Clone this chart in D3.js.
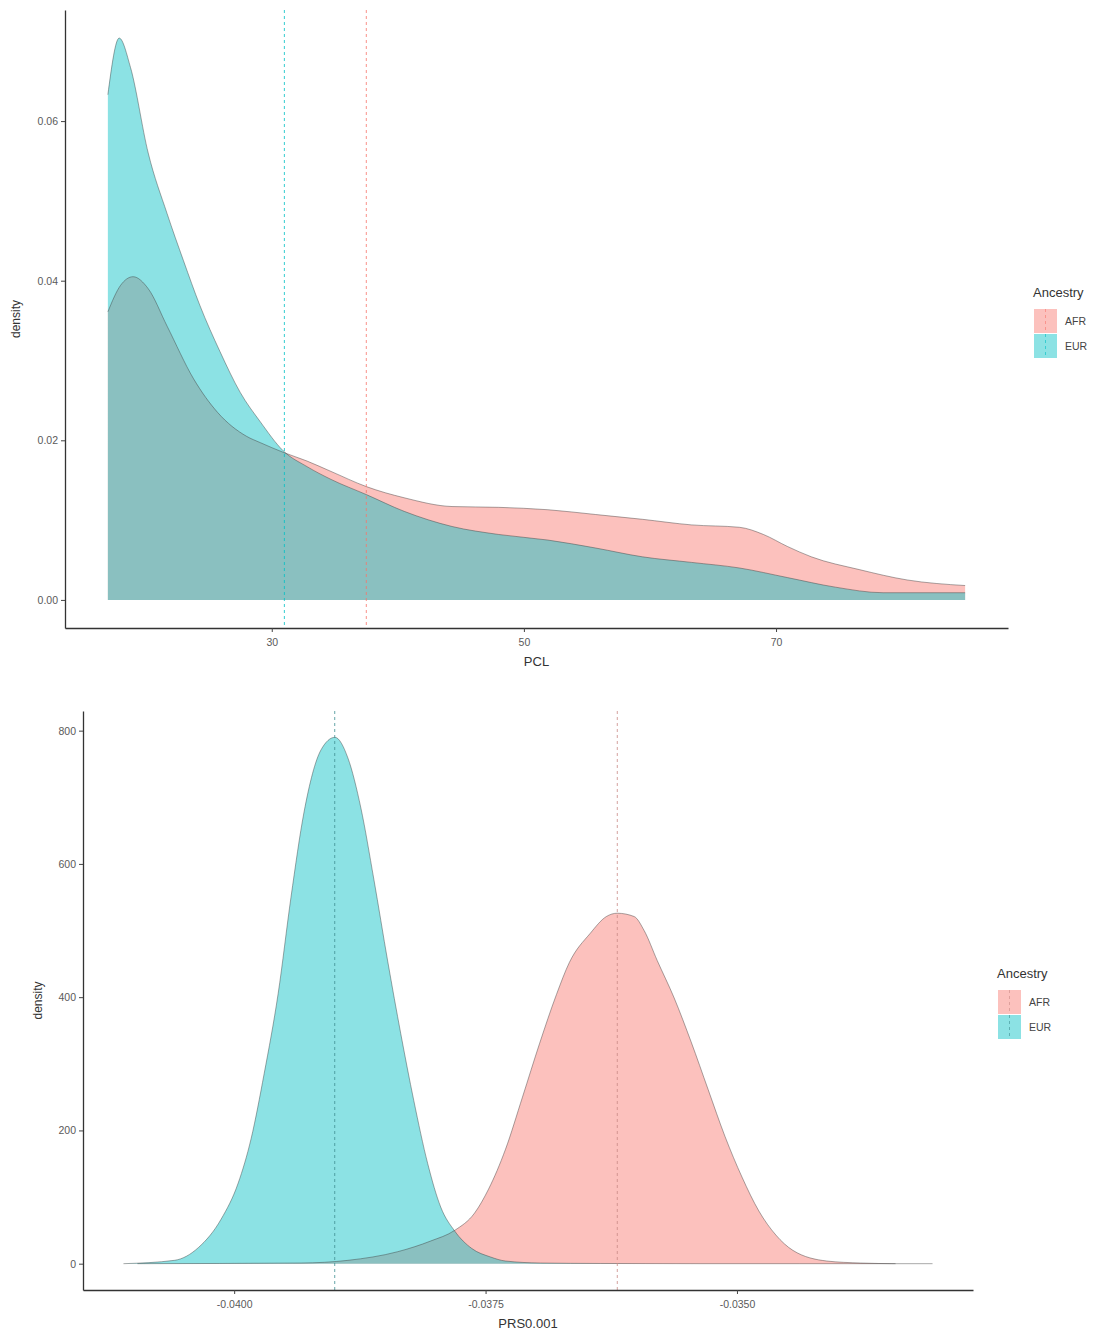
<!DOCTYPE html>
<html>
<head>
<meta charset="utf-8">
<script src="https://cdn.jsdelivr.net/npm/d3@7"></script>
<style>
  html, body { margin: 0; padding: 0; background: #fff; }
  svg { display: block; font-family: "Liberation Sans", Arial, sans-serif; }
</style>
</head>
<body>
<svg id="chart" width="1109" height="1332"></svg>
<script>
// ---------- DATA ----------
const groups = ["AFR", "EUR"];
const groupColors = ["#F8766D", "#00BFC4"];

// Top panel: PCL density
const pclAfrX = [17, 18.0, 19.0, 20.2, 21.7, 23.8, 25.7, 28.0, 29.1, 30.9, 32.8, 34.7, 37.5, 40.5, 44.3, 48.0, 51.9, 55.7, 59.4, 63.3, 67.1, 69.0, 70.9, 72.8, 76.6, 80.4, 85];
const pclAfrY = [0.0361, 0.0394, 0.0405, 0.0390, 0.0343, 0.0277, 0.0235, 0.0205, 0.0197, 0.0185, 0.0174, 0.0161, 0.0142, 0.0128, 0.0117, 0.0116, 0.0113, 0.0107, 0.0101, 0.0094, 0.0091, 0.0082, 0.0067, 0.0054, 0.0038, 0.0025, 0.0018];
const pclEurX = [17, 17.9, 18.8, 20.2, 21.7, 23.0, 24.3, 25.9, 27.5, 29.1, 30.9, 32.8, 34.7, 37.5, 40.5, 44.3, 48.0, 51.9, 55.7, 59.4, 63.3, 67.1, 70.9, 74.7, 78.5, 85];
const pclEurY = [0.0633, 0.0704, 0.0667, 0.0560, 0.0484, 0.0425, 0.0369, 0.0311, 0.0260, 0.0223, 0.0187, 0.0167, 0.0151, 0.0132, 0.0111, 0.0092, 0.0082, 0.0075, 0.0065, 0.0054, 0.0047, 0.0040, 0.0028, 0.0016, 0.0009, 0.0009];
const pclMeans = [37.5, 31.0];           // AFR, EUR
const pclXTicks = [30, 50, 70];
const pclYTicks = [0, 0.02, 0.04, 0.06];

// Bottom panel: PRS0.001 density
const prsAfrX = [-0.040962, -0.039335, -0.038869, -0.038373, -0.038046, -0.037807, -0.037609, -0.037470, -0.037301, -0.037133, -0.036964, -0.036795, -0.036667, -0.036458, -0.036299, -0.036190, -0.036022, -0.035923, -0.035793, -0.035625, -0.035456, -0.035288, -0.035119, -0.034950, -0.034782, -0.034613, -0.034444, -0.034107, -0.033770, -0.033423];
const prsAfrY = [0, 1, 5, 18, 34, 50, 76, 112, 172, 250, 330, 404, 452, 496, 521, 526, 521, 500, 455, 399, 333, 262, 191, 130, 79, 43, 20, 4, 1, 0];
const prsEurX = [-0.041101, -0.040595, -0.040357, -0.040129, -0.039960, -0.039831, -0.039702, -0.039563, -0.039435, -0.039305, -0.039137, -0.038998, -0.038869, -0.038740, -0.038611, -0.038472, -0.038343, -0.038214, -0.038075, -0.037946, -0.037807, -0.037639, -0.037450, -0.037302, -0.036954, -0.036359, -0.035367, -0.034375, -0.033055];
const prsEurY = [0, 5, 24, 67, 121, 188, 285, 405, 550, 678, 771, 790, 759, 684, 577, 453, 345, 245, 150, 85, 49, 23, 10, 4, 1, 0.3, 0, 0, 0];
const prsMeans = [-0.03619, -0.0390];    // AFR, EUR
const prsXTicks = [-0.04, -0.0375, -0.035];
const prsYTicks = [0, 200, 400, 600, 800];

// ---------- DRAW ----------
const svg = d3.select("#chart");
const FILL_ALPHA = 0.45;

function zip(xs, ys) { return xs.map((x, i) => ({ x: x, y: ys[i] })); }

function panel(cfg) {
  const series = [zip(cfg.afrX, cfg.afrY), zip(cfg.eurX, cfg.eurY)];
  const allX = cfg.afrX.concat(cfg.eurX);
  const allY = cfg.afrY.concat(cfg.eurY);
  const xMin = d3.min(allX), xMax = d3.max(allX);
  const yMin = 0, yMax = d3.max(allY);
  const xPad = (xMax - xMin) * 0.05, yPad = (yMax - yMin) * 0.05;

  const x = d3.scaleLinear().domain([xMin - xPad, xMax + xPad]).range([cfg.left, cfg.right]);
  const y = d3.scaleLinear().domain([yMin - yPad, yMax + yPad]).range([cfg.bottom, cfg.top]);

  const g = svg.append("g");

  const area = d3.area().x(d => x(d.x)).y0(y(0)).y1(d => y(d.y)).curve(d3.curveMonotoneX);
  const line = d3.line().x(d => x(d.x)).y(d => y(d.y)).curve(d3.curveMonotoneX);

  series.forEach((s, i) => {
    g.append("path").datum(s).attr("d", area)
      .attr("fill", groupColors[i]).attr("fill-opacity", FILL_ALPHA).attr("stroke", "none");
  });
  series.forEach((s, i) => {
    g.append("path").datum(s).attr("d", line)
      .attr("fill", "none").attr("stroke", "#3a3a3a").attr("stroke-opacity", 0.55).attr("stroke-width", 0.8);
  });

  // mean lines
  cfg.means.forEach((m, i) => {
    g.append("line")
      .attr("x1", x(m)).attr("x2", x(m))
      .attr("y1", cfg.top).attr("y2", cfg.bottom)
      .attr("stroke", cfg.vlineColors[i]).attr("stroke-width", 1)
      .attr("stroke-dasharray", "3,3").attr("stroke-opacity", 0.8);
  });

  // axes
  const xAxis = d3.axisBottom(x).tickValues(cfg.xTicks).tickSize(4).tickSizeOuter(0).tickFormat(cfg.xFmt);
  const yAxis = d3.axisLeft(y).tickValues(cfg.yTicks).tickSize(4).tickSizeOuter(0).tickFormat(cfg.yFmt);

  const gx = g.append("g").attr("transform", `translate(0,${cfg.bottom})`).call(xAxis);
  const gy = g.append("g").attr("transform", `translate(${cfg.left},0)`).call(yAxis);
  [gx, gy].forEach(a => {
    a.select(".domain").attr("stroke", "#333").attr("stroke-width", 1.3);
    a.selectAll(".tick line").attr("stroke", "#444").attr("stroke-width", 1);
    a.selectAll(".tick text").attr("fill", "#5a5a5a").attr("font-size", 10.5)
      .attr("font-family", "Liberation Sans, Arial, sans-serif");
  });
  gx.selectAll(".tick text").attr("dy", "1.05em");

  // axis titles
  g.append("text").attr("x", (cfg.left + cfg.right) / 2).attr("y", cfg.bottom + 38)
    .attr("text-anchor", "middle").attr("font-size", 13).attr("fill", "#333").text(cfg.xTitle);
  g.append("text")
    .attr("transform", `translate(${cfg.yTitleX},${(cfg.top + cfg.bottom) / 2}) rotate(-90)`)
    .attr("text-anchor", "middle").attr("font-size", 12).attr("fill", "#333").text("density");

  // legend
  const lg = g.append("g").attr("transform", `translate(${cfg.legX},${cfg.legY})`);
  lg.append("text").attr("x", 0).attr("y", 0).attr("font-size", 13).attr("fill", "#333").text("Ancestry");
  groups.forEach((name, i) => {
    const ky = 12 + i * 25;
    lg.append("rect").attr("x", 1).attr("y", ky).attr("width", 23).attr("height", 24)
      .attr("fill", groupColors[i]).attr("fill-opacity", FILL_ALPHA);
    lg.append("line").attr("x1", 12.5).attr("x2", 12.5).attr("y1", ky).attr("y2", ky + 24)
      .attr("stroke", cfg.vlineColors[i]).attr("stroke-width", 1).attr("stroke-dasharray", "3,3")
      .attr("stroke-opacity", 0.6);
    lg.append("text").attr("x", 32).attr("y", ky + 16).attr("font-size", 10.5).attr("fill", "#444").text(name);
  });
}

const hyphen = f => (d => f(d).replace("\u2212", "-"));

panel({
  afrX: pclAfrX, afrY: pclAfrY, eurX: pclEurX, eurY: pclEurY, means: pclMeans,
  xTicks: pclXTicks, yTicks: pclYTicks,
  xFmt: d3.format("d"), yFmt: d3.format(".2f"),
  left: 65, right: 1008, top: 10, bottom: 628,
  xTitle: "PCL", yTitleX: 20,
  vlineColors: ["#F8766D", "#00BFC4"],
  legX: 1033, legY: 297
});

panel({
  afrX: prsAfrX, afrY: prsAfrY, eurX: prsEurX, eurY: prsEurY, means: prsMeans,
  xTicks: prsXTicks, yTicks: prsYTicks,
  xFmt: hyphen(d3.format(".4f")), yFmt: d3.format("d"),
  left: 83, right: 973, top: 711, bottom: 1290,
  xTitle: "PRS0.001", yTitleX: 42,
  vlineColors: ["#c98a86", "#3f8f92"],
  legX: 997, legY: 978
});
</script>
</body>
</html>
